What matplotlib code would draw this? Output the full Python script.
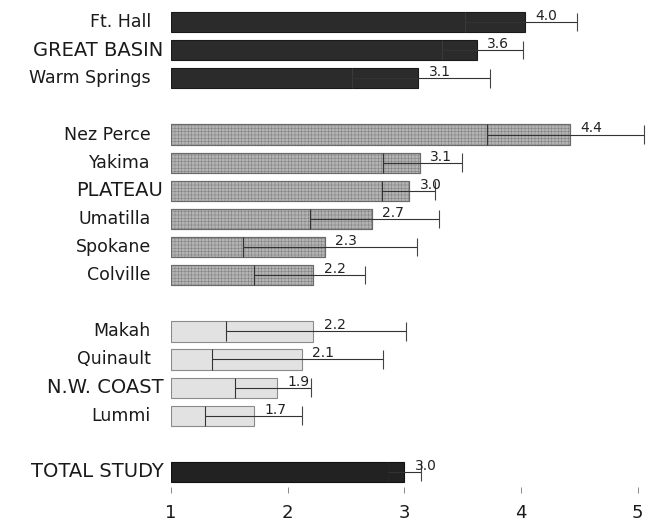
import matplotlib.pyplot as plt

plt.rcParams['font.family'] = 'DejaVu Sans'
plt.rcParams['hatch.linewidth'] = 0.35

# rows top to bottom
labels = ['Ft. Hall', 'GREAT BASIN', 'Warm Springs',
          'Nez Perce', 'Yakima', 'PLATEAU', 'Umatilla', 'Spokane', 'Colville',
          'Makah', 'Quinault', 'N.W. COAST', 'Lummi',
          'TOTAL STUDY']
value_text = ['4.0', '3.6', '3.1',
              '4.4', '3.1', '3.0', '2.7', '2.3', '2.2',
              '2.2', '2.1', '1.9', '1.7',
              '3.0']
bar_end = [4.03, 3.62, 3.12,
           4.42, 3.13, 3.04, 2.72, 2.32, 2.22,
           2.22, 2.12, 1.91, 1.71,
           3.00]
lower = [3.52, 3.32, 2.55,
         3.71, 2.82, 2.81, 2.19, 1.62, 1.71,
         1.47, 1.35, 1.55, 1.29,
         2.86]
upper = [4.48, 4.02, 3.73,
         5.05, 3.49, 3.26, 3.30, 3.11, 2.66,
         3.01, 2.82, 2.20, 2.12,
         3.14]
group = ['basin'] * 3 + ['plateau'] * 6 + ['coast'] * 4 + ['total']
is_region = [False, True, False,
             False, False, True, False, False, False,
             False, False, True, False,
             True]
rows = [0, 1, 2, 4, 5, 6, 7, 8, 9, 11, 12, 13, 14, 16]

styles = {
    'basin':   dict(color='#2b2b2b', edgecolor='#1a1a1a', hatch=None, line='#3a3a3a'),
    'plateau': dict(color='#b3b3b3', edgecolor='#7e7e7e', hatch='+++++', line='#333333'),
    'coast':   dict(color='#e2e2e2', edgecolor='#8a8a8a', hatch=None, line='#333333'),
    'total':   dict(color='#222222', edgecolor='#111111', hatch=None, line='#262626'),
}

fig = plt.figure(figsize=(6.48, 5.21), dpi=100)
ax = fig.add_axes([171 / 648, (521 - 487) / 521, 477 / 648, 487 / 521])

h = 0.72
for y, g, end, lo in zip(rows, group, bar_end, lower):
    st = styles[g]
    ax.barh(y, end - 1, left=1, height=h, color=st['color'],
            edgecolor=st['edgecolor'], hatch=st['hatch'], linewidth=0.8)
    if st['hatch']:
        ax.barh(y, end - 1, left=1, height=h, fill=False,
                edgecolor='#6a6a6a', linewidth=0.8)
    # tick at the lower end, inside the bar
    ax.vlines(lo, y - h / 2, y + h / 2, color=st['line'], lw=0.8)

# range line and cap at upper end
ax.hlines(rows, lower, upper, color='#333333', lw=0.8)
ax.vlines(upper, [r - 0.33 for r in rows], [r + 0.33 for r in rows],
          color='#444444', lw=0.8)

for y, end, t in zip(rows, bar_end, value_text):
    ax.annotate(t, xy=(end, y), xytext=(7.5, 1.5), textcoords='offset points',
                ha='left', va='baseline', fontsize=10, color='#222222')

for y, lab, reg in zip(rows, labels, is_region):
    ax.annotate(lab, xy=(0, y), xycoords=('axes fraction', 'data'),
                xytext=(-5.5 if reg else -14.5, 0), textcoords='offset points',
                ha='right', va='center', fontsize=14 if reg else 12.5,
                color='#1a1a1a')

ax.set_xlim(1, 1 + 477 / 116.7)
ax.set_ylim((487 - 22) / 28.125, -22 / 28.125)
ax.set_xticks([1, 2, 3, 4, 5])
ax.set_yticks([])
ax.tick_params(axis='x', length=4.3, width=0.6, color='#777777',
               labelsize=13, pad=8, labelcolor='#1a1a1a')
for s in ax.spines.values():
    s.set_visible(False)

fig.savefig('out.png', dpi=100)
